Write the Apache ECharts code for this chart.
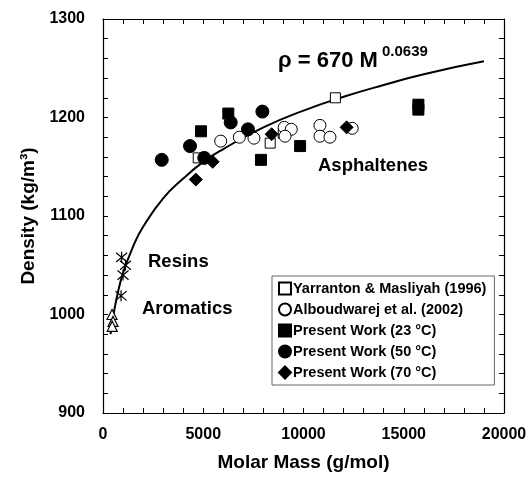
<!DOCTYPE html>
<html><head><meta charset="utf-8">
<script src="https://cdn.jsdelivr.net/npm/echarts@6/dist/echarts.min.js"></script>
<style>html,body{margin:0;padding:0;background:#fff}#c{width:532px;height:487px}</style>
</head><body><div id="c"></div>
<script>
// Data
var yarranton = [[4750,1159],[8340,1174],[8990,1184],[11590,1220]];
var alboudwarej = [[5870,1176],[6800,1180],[7530,1179],[9040,1190],[9390,1188],[9080,1181],[10820,1192],[10820,1181],[11320,1180],[12430,1189]];
var pw23 = [[4890,1186],[6250,1204],[7880,1157],[9830,1171],[15730,1213],[15730,1208]];
var pw50 = [[2930,1157],[4340,1171],[5050,1159],[6370,1195],[7230,1188],[7950,1206]];
var pw70 = [[4630,1137],[5470,1155],[8410,1183],[12150,1190]];
var resins = [[930,1058],[1120,1050],[1000,1040],[900,1019]];
var aromatics = [[450,1000],[500,993],[460,988]];
// fitted curve points
var fitM = [380,500,750,1000,1500,2000,3000,4000,5000,6000,8000,10000,12000,14000,16000,19000];
var fitRho = [980,997,1023,1042,1069,1089,1118,1138,1155,1168,1190,1207,1221,1233,1244,1257];
var xTicks = [0,5000,10000,15000,20000];
var yTicks = [900,1000,1100,1200,1300];

var fitData = fitM.map(function(m,i){return [m, fitRho[i]];});
var FONT = 'Liberation Sans, Arial, sans-serif';
var chart = echarts.init(document.getElementById('c'), null, {renderer:'canvas'});
var asterisk = 'path://M0,0L10,10M10,0L0,10M5,-1L5,11M5,11L5,-1M0,0';
function axisCommon(show, labelSet){
  return {
    axisLine:{show:true,onZero:false,lineStyle:{color:'#000',width:1.2}},
    axisTick:{show:true,inside:true,length:5,lineStyle:{color:'#000'}},
    minorTick:{show:false},
    splitLine:{show:false},
    axisLabel:{show:show,color:'#000',fontFamily:FONT,fontWeight:'bold',fontSize:16,
      showMinLabel:true,showMaxLabel:true,interval:0,
      formatter:function(v){return labelSet.indexOf(v)>=0 ? String(v) : '';}}
  };
}
var xa = Object.assign(axisCommon(true,xTicks),{type:'value',min:xTicks[0],max:xTicks[xTicks.length-1],interval:1000,
  name:'Molar Mass (g/mol)',nameLocation:'middle',nameGap:40,
  nameTextStyle:{color:'#000',fontFamily:FONT,fontWeight:'bold',fontSize:19}});
xa.axisLabel.margin = 14;
var xa2 = Object.assign(axisCommon(false,xTicks),{type:'value',position:'top',min:0,max:20000,interval:1000});
var ya = Object.assign(axisCommon(true,yTicks),{type:'value',min:yTicks[0],max:yTicks[yTicks.length-1],interval:20,
  name:'Density (kg/m³)',nameLocation:'middle',nameGap:60,
  nameTextStyle:{color:'#000',fontFamily:FONT,fontWeight:'bold',fontSize:19}});
ya.axisLabel.margin = 18;
var ya2 = Object.assign(axisCommon(false,yTicks),{type:'value',position:'right',min:900,max:1300,interval:20});

function sc(name,data,symbol,size,filled){
  return {name:name,type:'scatter',data:data,symbol:symbol,symbolSize:size,z:3,
    itemStyle:{color:filled?'#000':'#fff',borderColor:'#000',borderWidth:1,opacity:1},
    xAxisIndex:0,yAxisIndex:0};
}
chart.setOption({
  animation:false,
  backgroundColor:'#fff',
  grid:{left:103,right:28,top:19,bottom:74},
  xAxis:[xa,xa2],
  yAxis:[ya,ya2],
  legend:{
    show:true, orient:'vertical', left:272, top:276,
    data:['Yarranton & Masliyah (1996)','Alboudwarej et al. (2002)','Present Work (23 °C)','Present Work (50 °C)','Present Work (70 °C)'],
    itemWidth:12,itemHeight:12,itemGap:6,
    padding:[5,8,5,6],
    borderColor:'#666',borderWidth:1,backgroundColor:'#fff',
    textStyle:{color:'#000',fontFamily:FONT,fontWeight:'bold',fontSize:14.5,padding:[0,0,0,-3]}
  },
  series:[
    {name:'fit',type:'line',data:fitData,smooth:true,showSymbol:false,symbol:'none',z:2,
     lineStyle:{color:'#000',width:2}},
    sc('Yarranton & Masliyah (1996)',yarranton,'rect',10,false),
    sc('Alboudwarej et al. (2002)',alboudwarej,'circle',12,false),
    sc('Present Work (23 °C)',pw23,'rect',11,true),
    sc('Present Work (50 °C)',pw50,'circle',13,true),
    sc('Present Work (70 °C)',pw70,'diamond',13,true),
    {name:'Resins',type:'scatter',data:resins,symbol:asterisk,symbolSize:11,z:3,
     itemStyle:{color:'none',borderColor:'#000',borderWidth:1.2,opacity:1}},
    {name:'Aromatics',type:'scatter',data:aromatics,symbol:'triangle',symbolSize:10,z:3,
     itemStyle:{color:'#fff',borderColor:'#000',borderWidth:1.2,opacity:1}}
  ],
  graphic:[
    {type:'text',left:278,top:50,style:{text:'ρ = 670 M',fill:'#000',font:'bold 22px '+FONT}},
    {type:'text',left:382,top:44,style:{text:'0.0639',fill:'#000',font:'bold 15px '+FONT}},
    {type:'text',left:318,top:156,style:{text:'Asphaltenes',fill:'#000',font:'bold 18.5px '+FONT}},
    {type:'text',left:148,top:252,style:{text:'Resins',fill:'#000',font:'bold 18.5px '+FONT}},
    {type:'text',left:142,top:299,style:{text:'Aromatics',fill:'#000',font:'bold 18.5px '+FONT}}
  ]
});
</script></body></html>
